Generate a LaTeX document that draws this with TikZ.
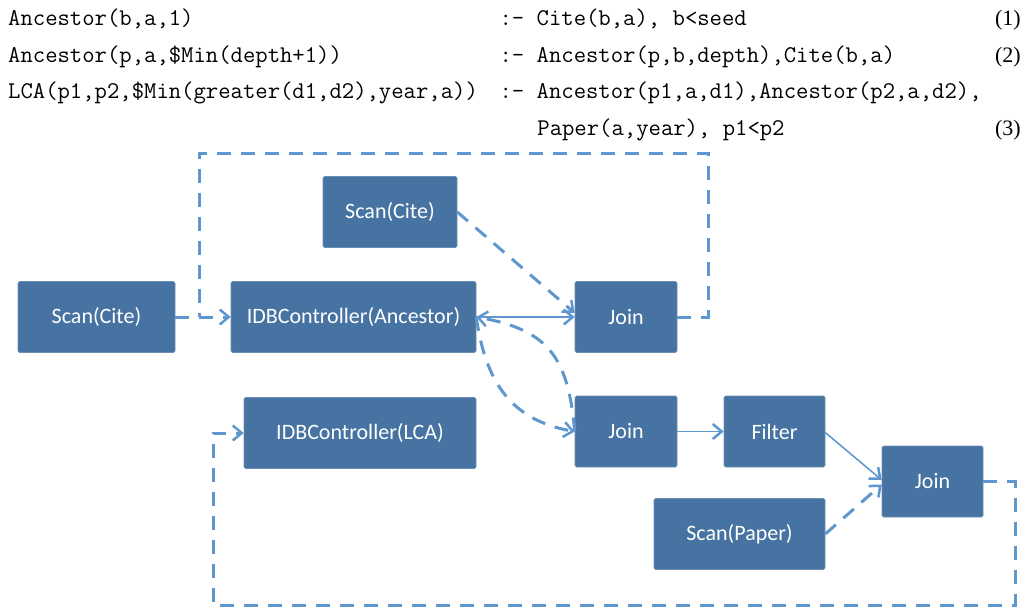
\documentclass[tikz,border=0pt]{standalone}
\usepackage{fontspec}
\setmainfont{Liberation Serif}
\setsansfont{Carlito}
\usetikzlibrary{arrows.meta}

\definecolor{boxblue}{HTML}{4673A1}
\definecolor{linkblue}{HTML}{5E96CE}

\tikzset{
  opbox/.style={draw=boxblue!80!white, line width=0.6pt, fill=boxblue, rounded corners=1.5pt,
    text=white, font=\sffamily\fontsize{22}{24}\selectfont, minimum height=71pt, inner sep=0pt},
  rulehead/.style={font=\ttfamily\fontsize{24}{26}\selectfont, inner sep=0pt, anchor=base west},
  eqnum/.style={font=\rmfamily\fontsize{22}{24}\selectfont, inner sep=0pt, anchor=base east},
  flowdash/.style={draw=linkblue, line width=3pt, dash pattern=on 14pt off 10pt},
  flowline/.style={draw=linkblue, line width=1.5pt},
  barbtip/.style={-{Straight Barb[length=9pt,width=15pt,line width=2.5pt]}}
}

\begin{document}
\begin{tikzpicture}[x=1pt,y=1pt]
    \useasboundingbox (0,0) rectangle (1028,-608);
%
    % rules
    \node[rulehead] (r1l) at (8,-25) {Ancestor(b,a,1)};
    \node[rulehead] (r1r) at (499.4,-25) {:- Cite(b,a), b<seed};
    \node[eqnum] (n1) at (1021,-25) {(1)};
    \node[rulehead] (r2l) at (8,-62) {Ancestor(p,a,\$Min(depth+1))};
    \node[rulehead] (r2r) at (499.4,-62) {:- Ancestor(p,b,depth),Cite(b,a)};
    \node[eqnum] (n2) at (1021,-62) {(2)};
    \node[rulehead] (r3l) at (8,-98) {LCA(p1,p2,\$Min(greater(d1,d2),year,a))};
    \node[rulehead] (r3r) at (499.4,-98) {:- Ancestor(p1,a,d1),Ancestor(p2,a,d2),};
    \node[rulehead] (r4r) at (537.2,-135) {Paper(a,year), p1<p2};
    \node[eqnum] (n3) at (1021,-135) {(3)};
%
    % operators
    \node[opbox, minimum width=157pt] (scanL) at (96.5,-317) {Scan(Cite)};
    \node[opbox, minimum width=134pt] (scanT) at (390,-212) {Scan(Cite)};
    \node[opbox, minimum width=245pt] (idbA) at (353.5,-317) {IDBController(Ancestor)};
    \node[opbox, minimum width=102pt] (joinT) at (626,-317) {Join};
    \node[opbox, minimum width=232pt] (idbL) at (360,-433) {IDBController(LCA)};
    \node[opbox, minimum width=102pt] (joinM) at (626,-431.5) {Join};
    \node[opbox, minimum width=101pt] (filter) at (774.5,-431.5) {Filter};
    \node[opbox, minimum width=101pt] (joinR) at (932.5,-481.5) {Join};
    \node[opbox, minimum width=171pt] (scanP) at (739.5,-534) {Scan(Paper)};
%
    \coordinate (upR) at (708,-153);
    \coordinate (upL) at (199,-153);
    \coordinate (lowR) at (1015,-605);
    \coordinate (lowL) at (213,-605);
%
    % connectors
    \draw[flowdash, barbtip] (scanL.east) -- (idbA.west);
    \draw[flowdash] (joinT.east) -| (upR) -- (upL) -- (upL |- idbA.west);
    \draw[flowdash, barbtip] (scanT.east) -- ([yshift=4pt]joinT.west);
    \draw[flowline, barbtip] (idbA.east) -- (joinT.west);
    \draw[flowdash, barbtip] (joinM.west) to[out=95, in=-10, looseness=1.25] (idbA.east);
    \draw[flowdash, barbtip] (idbA.east) to[out=-82, in=170, looseness=1.1] (joinM.west);
    \draw[flowline, barbtip] (joinM.east) -- (filter.west);
    \draw[flowline, barbtip] ([yshift=-1pt]filter.east) -- ([yshift=1.5pt]joinR.west);
    \draw[flowdash, barbtip] (scanP.east) -- ([yshift=-3pt]joinR.west);
    \draw[flowdash, barbtip] (joinR.east) -| (lowR) -- (lowL) |- (idbL.west);
\end{tikzpicture}
\end{document}
